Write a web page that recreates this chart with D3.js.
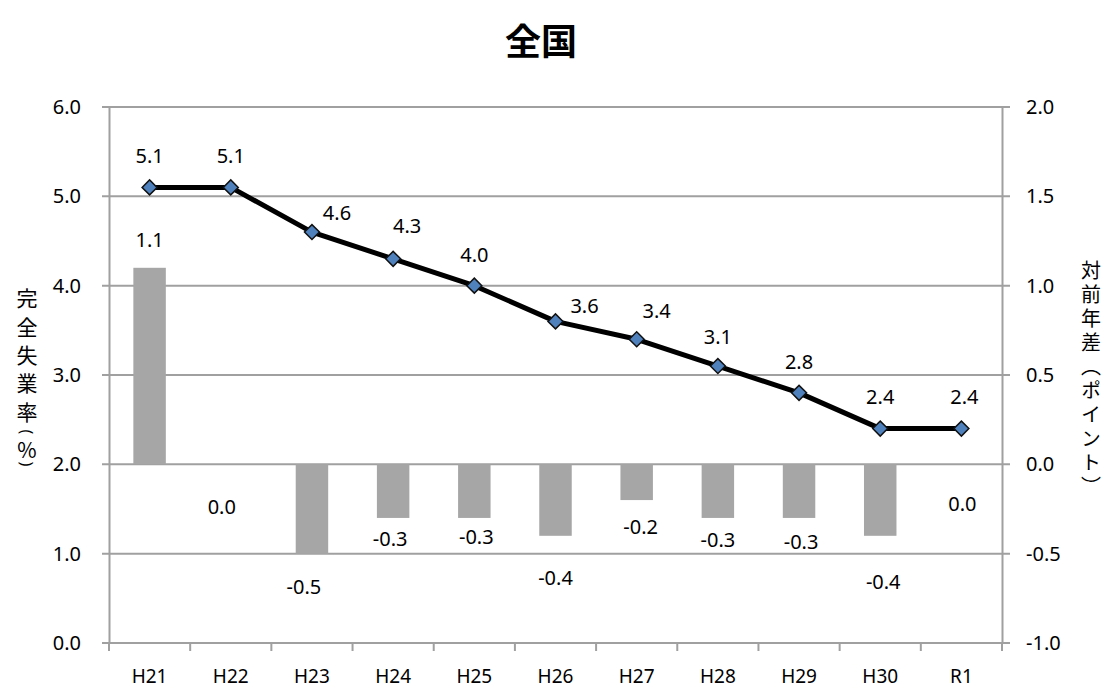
<!DOCTYPE html>
<html>
<head>
<meta charset="utf-8">
<script src="https://cdn.jsdelivr.net/npm/d3@7"></script>
<style>
  body { margin: 0; background: #fff; }
  text { font-family: "Noto Sans", "Noto Sans CJK JP", sans-serif; fill: #000; }
  .jp { font-family: "Noto Sans CJK JP", sans-serif; }
  .vert { writing-mode: vertical-rl; text-orientation: upright; }
</style>
</head>
<body>
<div id="chart"></div>
<script>
// data
const categories = ["H21", "H22", "H23", "H24", "H25", "H26", "H27", "H28", "H29", "H30", "R1"];
const rates = [5.1, 5.1, 4.6, 4.3, 4.0, 3.6, 3.4, 3.1, 2.8, 2.4, 2.4];
const diffs = [1.1, 0.0, -0.5, -0.3, -0.3, -0.4, -0.2, -0.3, -0.3, -0.4, 0.0];
const leftTicks = [0, 1, 2, 3, 4, 5, 6];
const rightTicks = [-1.0, -0.5, 0.0, 0.5, 1.0, 1.5, 2.0];
const title = "全国";
const leftTitle = ["完", "全", "失", "業", "率", "(", "%", ")"];
const rightTitle = "対前年差（ポイント）";

// hand placed label nudges (as in the original chart)
const rateLabelNudge = [[0, -32], [0, -32], [25, -20], [14, -33], [0, -31], [29, -16], [20, -29], [0, -30], [0, -31], [0, -32], [3, -32]];
const diffLabelNudge = [[0, -28], [-9, 42], [-8, 33], [-3, 21], [2, 19], [0, 42], [4, 26], [0, 22], [2, 24], [3, 46], [1, 39]];
const leftTitleY = [297, 326, 354, 382, 411, 432, 449, 464];

const width = 1106, height = 688;
const plotLeft = 109, plotRight = 1002, plotTop = 107, plotBottom = 643;
const grey = "#a0a0a0";
const fmt = v => d3.format(".1f")(v).replace("−", "-");
const isBracket = c => c === "(" || c === ")";

const x = d3.scaleBand().domain(categories).range([plotLeft, plotRight]).paddingInner(0.6).paddingOuter(0.3);
const yL = d3.scaleLinear().domain([0, 6]).range([plotBottom, plotTop]);
const yR = d3.scaleLinear().domain([-1, 2]).range([plotBottom, plotTop]);
const cx = d => x(d) + x.bandwidth() / 2;

const svg = d3.select("#chart").append("svg")
    .attr("width", width)
    .attr("height", height);

// gridlines
svg.append("g").selectAll("line")
    .data(leftTicks)
    .join("line")
    .attr("x1", plotLeft - 7).attr("x2", plotRight + 8)
    .attr("y1", d => yL(d)).attr("y2", d => yL(d))
    .attr("stroke", grey).attr("stroke-width", 2);

// left axis
const axL = svg.append("g")
    .attr("transform", `translate(${plotLeft},0)`)
    .call(d3.axisLeft(yL).tickValues(leftTicks).tickFormat(fmt).tickSize(0).tickPadding(28));
axL.select(".domain").attr("stroke", grey).attr("stroke-width", 2);
axL.selectAll("text").style("font-size", "20px");

// right axis
const axR = svg.append("g")
    .attr("transform", `translate(${plotRight},0)`)
    .call(d3.axisRight(yR).tickValues(rightTicks).tickFormat(fmt).tickSize(0).tickPadding(24));
axR.select(".domain").attr("stroke", grey).attr("stroke-width", 2);
axR.selectAll("text").style("font-size", "20px");

// bottom axis
const step = x.step();
svg.append("line")
    .attr("x1", plotLeft).attr("x2", plotRight)
    .attr("y1", plotBottom).attr("y2", plotBottom)
    .attr("stroke", grey).attr("stroke-width", 2);
svg.append("g").selectAll("line")
    .data(d3.range(categories.length + 1))
    .join("line")
    .attr("x1", i => plotLeft + i * step).attr("x2", i => plotLeft + i * step)
    .attr("y1", plotBottom).attr("y2", plotBottom + 8)
    .attr("stroke", grey).attr("stroke-width", 2);
svg.append("g").selectAll("text")
    .data(categories)
    .join("text")
    .attr("x", d => cx(d))
    .attr("y", 683)
    .attr("text-anchor", "middle")
    .style("font-size", "19px")
    .text(d => d);

// bars (right axis)
svg.append("g").selectAll("rect")
    .data(diffs)
    .join("rect")
    .attr("x", (d, i) => x(categories[i]))
    .attr("width", x.bandwidth())
    .attr("y", d => yR(Math.max(0, d)))
    .attr("height", d => Math.abs(yR(d) - yR(0)))
    .attr("fill", "#a6a6a6");

svg.append("g").selectAll("text")
    .data(diffs)
    .join("text")
    .attr("x", (d, i) => cx(categories[i]) + diffLabelNudge[i][0])
    .attr("y", (d, i) => yR(d) + diffLabelNudge[i][1])
    .attr("text-anchor", "middle")
    .attr("dominant-baseline", "central")
    .style("font-size", "20px")
    .text(fmt);

// line (left axis)
const line = d3.line()
    .x((d, i) => cx(categories[i]))
    .y(d => yL(d));

svg.append("path")
    .datum(rates)
    .attr("d", line)
    .attr("fill", "none")
    .attr("stroke", "#000")
    .attr("stroke-width", 5)
    .attr("stroke-linejoin", "round");

svg.append("g").selectAll("path")
    .data(rates)
    .join("path")
    .attr("d", d3.symbol(d3.symbolSquare, 112))
    .attr("transform", (d, i) => `translate(${cx(categories[i])},${yL(d)}) rotate(45)`)
    .attr("fill", "#4f81bd")
    .attr("stroke", "#111")
    .attr("stroke-width", 1.5);

svg.append("g").selectAll("text")
    .data(rates)
    .join("text")
    .attr("x", (d, i) => cx(categories[i]) + rateLabelNudge[i][0])
    .attr("y", (d, i) => yL(d) + rateLabelNudge[i][1])
    .attr("text-anchor", "middle")
    .attr("dominant-baseline", "central")
    .style("font-size", "20px")
    .text(fmt);

// titles
svg.append("text")
    .attr("class", "jp")
    .attr("x", 541).attr("y", 39)
    .attr("text-anchor", "middle")
    .attr("dominant-baseline", "central")
    .style("font-size", "36px")
    .style("font-weight", "bold")
    .text(title);

svg.append("g").selectAll("text")
    .data(leftTitle)
    .join("text")
    .attr("class", d => isBracket(d) ? null : "jp")
    .attr("text-anchor", "middle")
    .attr("dominant-baseline", "central")
    .attr("transform", (d, i) => `translate(27,${leftTitleY[i]})` + (isBracket(d) ? " rotate(90)" : ""))
    .style("font-size", d => isBracket(d) ? "16px" : "21px")
    .text(d => d);

svg.append("text")
    .attr("class", "jp vert")
    .attr("x", 1091).attr("y", 380)
    .attr("text-anchor", "middle")
    .style("font-size", "20px")
    .style("letter-spacing", "4px")
    .text(rightTitle);
</script>
</body>
</html>
